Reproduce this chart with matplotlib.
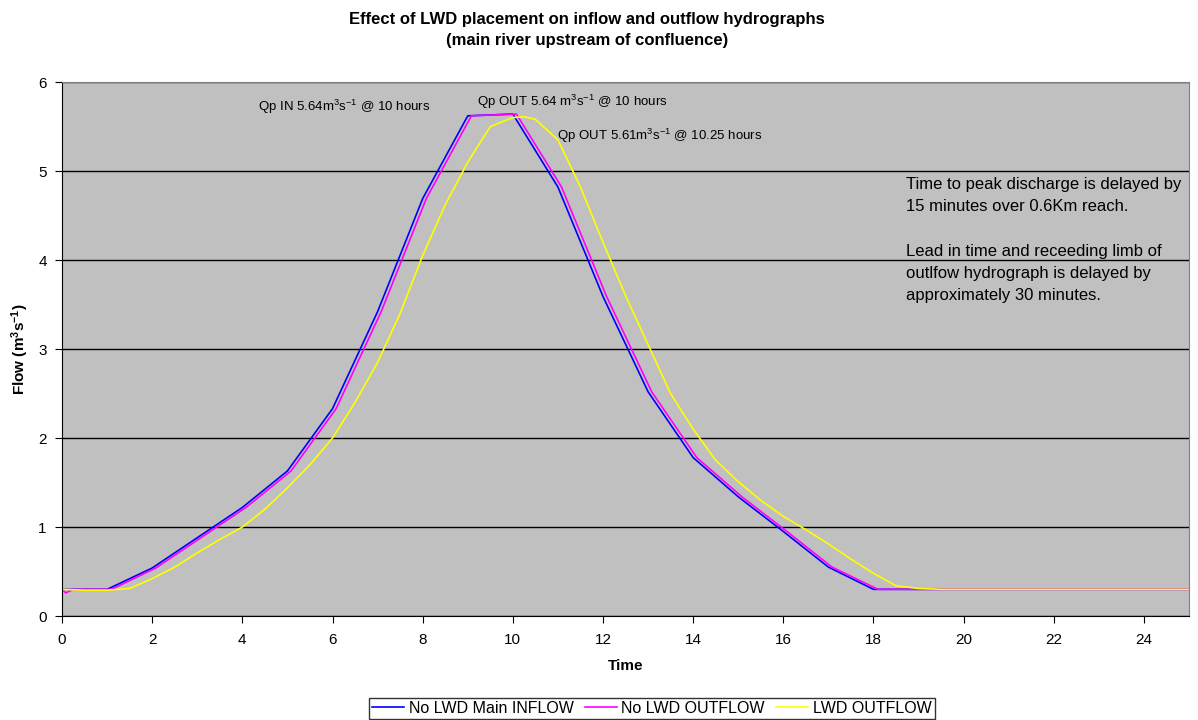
import matplotlib
matplotlib.use("Agg")
import matplotlib.pyplot as plt

plt.rcParams['font.family'] = ['Liberation Sans', 'DejaVu Sans']
plt.rcParams['mathtext.default'] = 'regular'

# hydrograph values (time in hours, flow in m3/s)
t_in = [0, 1, 2, 3, 4, 5, 6, 7, 8, 9, 10, 11, 12, 13, 14, 15, 16, 17, 18, 25]
q_in = [0.30, 0.30, 0.54, 0.88, 1.22, 1.63, 2.33, 3.42, 4.69, 5.62, 5.64,
        4.82, 3.59, 2.52, 1.78, 1.34, 0.95, 0.55, 0.30, 0.30]

t_out = [0, 0.08, 0.25, 1.1, 2.08, 3.08, 4.08, 5.08, 6.08, 7.08, 8.08, 9.08,
         10.08, 11.08, 12.08, 13.08, 14.08, 15.08, 16.08, 17.08, 18.1, 25]
q_out = [0.30, 0.26, 0.30, 0.30, 0.54, 0.88, 1.22, 1.63, 2.33, 3.42, 4.69, 5.62,
         5.64, 4.82, 3.59, 2.52, 1.78, 1.34, 0.95, 0.55, 0.30, 0.30]

t_lwd = [0, 0.5, 1.0, 1.5, 2.0, 2.5, 3.0, 3.5, 4.0, 4.5, 5.0, 5.5, 6.0, 6.5,
         7.0, 7.5, 8.0, 8.5, 9.0, 9.5, 10.0, 10.25, 10.5, 11.0, 11.5, 12.0,
         12.5, 13.0, 13.5, 14.0, 14.5, 15.0, 15.5, 16.0, 16.5, 17.0, 17.5,
         18.0, 18.5, 19.0, 19.5, 25]
q_lwd = [0.30, 0.29, 0.29, 0.31, 0.42, 0.55, 0.71, 0.86, 1.00, 1.20, 1.44,
         1.70, 2.00, 2.40, 2.85, 3.40, 4.05, 4.62, 5.10, 5.50, 5.60, 5.61,
         5.58, 5.35, 4.82, 4.20, 3.60, 3.05, 2.50, 2.10, 1.75, 1.51, 1.30,
         1.12, 0.97, 0.81, 0.64, 0.48, 0.34, 0.31, 0.30, 0.30]

fig = plt.figure(figsize=(11.98, 7.2), dpi=100)
ax = fig.add_axes([0.0518, 0.1444, 0.9407, 0.7417])
ax.set_facecolor('#C0C0C0')

ax.plot(t_in, q_in, color='#0000FF', lw=1.2, label='No LWD Main INFLOW')
ax.plot(t_out, q_out, color='#FF00FF', lw=1.2, label='No LWD OUTFLOW')
ax.plot(t_lwd, q_lwd, color='#FFFF00', lw=1.2, label='LWD OUTFLOW')

ax.set_xlim(0, 25)
ax.set_ylim(0, 6)
ax.set_xticks(range(0, 25, 2))
ax.set_yticks(range(0, 7))
ax.yaxis.grid(True, color='black', lw=1)
ax.set_axisbelow(True)
ax.tick_params(direction='out', length=5, labelsize=11, colors='black')
ax.tick_params(axis='x', pad=7)
ax.tick_params(axis='y', pad=6)
for s in ['top', 'right']:
    ax.spines[s].set_color('#808080')
for s in ['left', 'bottom']:
    ax.spines[s].set_color('black')

ax.set_xlabel('Time', fontsize=11, fontweight='bold', labelpad=9)
ax.set_ylabel('Flow (m$^3$s$^{-1}$)', fontsize=11, fontweight='bold', labelpad=5)

fig.text(0.49, 0.984, 'Effect of LWD placement on inflow and outflow hydrographs\n'
         '(main river upstream of confluence)', ha='center', va='top',
         fontsize=12, fontweight='bold', linespacing=1.55)

ax.text(4.35, 5.72, 'Qp IN 5.64m$^3$s$^{-1}$ @ 10 hours', fontsize=9.5, va='center')
ax.text(9.2, 5.78, 'Qp OUT 5.64 m$^3$s$^{-1}$ @ 10 hours', fontsize=9.5, va='center')
ax.text(10.98, 5.40, 'Qp OUT 5.61m$^3$s$^{-1}$ @ 10.25 hours', fontsize=9.5, va='center')
ax.text(18.72, 4.93, 'Time to peak discharge is delayed by\n15 minutes over 0.6Km reach.\n\n'
        'Lead in time and receeding limb of\noutlfow hydrograph is delayed by\n'
        'approximately 30 minutes.', fontsize=12, va='top', linespacing=1.6)

leg = fig.legend(loc='lower center', bbox_to_anchor=(0.544, 0.0), ncol=3,
                 frameon=True, fancybox=False, edgecolor='black', fontsize=11.5,
                 handlelength=2.0, handletextpad=0.3, columnspacing=0.7,
                 borderpad=0.2, borderaxespad=0.05)
leg.get_frame().set_linewidth(1)

fig.savefig('out.png', dpi=100)
